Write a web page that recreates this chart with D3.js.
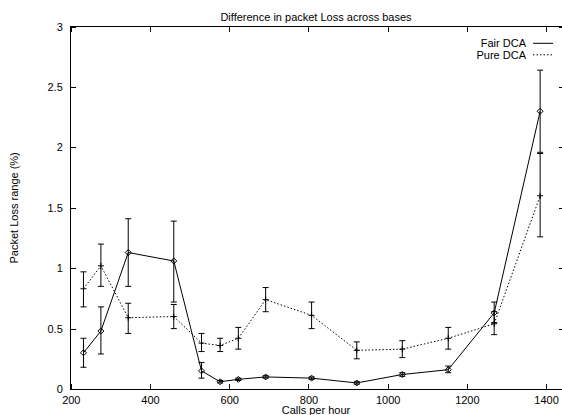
<!DOCTYPE html>
<html>
<head>
<meta charset="utf-8">
<script src="https://cdn.jsdelivr.net/npm/d3@7"></script>
<style>
  body { margin: 0; background: #fff; }
  svg { display: block; font-family: "Liberation Sans", Arial, Helvetica, sans-serif; }
</style>
</head>
<body>
<svg></svg>
<script>
// values
let calls = [232, 276, 345, 460, 530, 577, 623, 692, 808, 922, 1037, 1153, 1269, 1385];

let fair     = [0.30, 0.48, 1.13, 1.06, 0.15, 0.06, 0.08, 0.10, 0.09, 0.05, 0.12, 0.16, 0.63, 2.30];
let fairLow  = [0.18, 0.29, 0.85, 0.72, 0.09, 0.05, 0.07, 0.09, 0.08, 0.04, 0.105, 0.135, 0.55, 1.96];
let fairHigh = [0.42, 0.68, 1.41, 1.39, 0.22, 0.07, 0.09, 0.11, 0.10, 0.06, 0.135, 0.19, 0.72, 2.64];

let pure     = [0.83, 1.02, 0.59, 0.60, 0.38, 0.36, 0.42, 0.74, 0.61, 0.32, 0.33, 0.42, 0.54, 1.60];
let pureLow  = [0.68, 0.85, 0.46, 0.50, 0.31, 0.31, 0.33, 0.64, 0.50, 0.25, 0.26, 0.33, 0.45, 1.26];
let pureHigh = [0.97, 1.20, 0.71, 0.70, 0.46, 0.42, 0.51, 0.84, 0.72, 0.39, 0.40, 0.51, 0.64, 1.95];

let xTicks = [200, 400, 600, 800, 1000, 1200, 1400];
let yTicks = [0, 0.5, 1, 1.5, 2, 2.5, 3];

let seriesNames = ['Fair DCA', 'Pure DCA'];

let width = 562;
let height = 415;
let plotLeft = 70.8;
let plotRight = 563.5;
let plotTop = 26.7;
let plotBottom = 389;

let svg = d3.select('svg').attr('width', width).attr('height', height);

let xScale = d3.scaleLinear().domain([200, 1444]).range([plotLeft, plotRight]);
let yScale = d3.scaleLinear().domain([0, 3]).range([plotBottom, plotTop]);

let series = [
  { name: seriesNames[0], y: fair, lo: fairLow, hi: fairHigh, dash: null, marker: 'diamond' },
  { name: seriesNames[1], y: pure, lo: pureLow, hi: pureHigh, dash: '1.5,2', marker: 'plus' }
];

// axes - gnuplot style inward ticks on all four sides
let styleAxis = (g) => {
  g.select('.domain').remove();
  g.selectAll('line').attr('stroke', '#000').attr('shape-rendering', 'crispEdges');
  g.selectAll('text').attr('fill', '#000').style('font-size', '11px');
};

svg.append('g')
  .attr('transform', 'translate(0,' + plotBottom + ')')
  .call(d3.axisBottom(xScale).tickValues(xTicks).tickSizeInner(-5).tickSizeOuter(0).tickPadding(7).tickFormat(d3.format('d')))
  .call(styleAxis);

svg.append('g')
  .attr('transform', 'translate(0,' + plotTop + ')')
  .call(d3.axisTop(xScale).tickValues(xTicks).tickSizeInner(-5).tickSizeOuter(0).tickFormat(''))
  .call(styleAxis);

svg.append('g')
  .attr('transform', 'translate(' + plotLeft + ',0)')
  .call(d3.axisLeft(yScale).tickValues(yTicks).tickSizeInner(-5).tickSizeOuter(0).tickPadding(8).tickFormat((d) => d))
  .call(styleAxis);

svg.append('g')
  .attr('transform', 'translate(' + plotRight + ',0)')
  .call(d3.axisRight(yScale).tickValues(yTicks).tickSizeInner(-5).tickSizeOuter(0).tickFormat(''))
  .call(styleAxis);

// frame
svg.append('rect')
  .attr('x', plotLeft).attr('y', plotTop)
  .attr('width', plotRight - plotLeft).attr('height', plotBottom - plotTop)
  .attr('fill', 'none').attr('stroke', '#000').attr('shape-rendering', 'crispEdges');

// lines, error bars, markers
let line = d3.line().x((d) => xScale(d[0])).y((d) => yScale(d[1]));

series.forEach((s) => {
  let pts = calls.map((c, i) => [c, s.y[i], s.lo[i], s.hi[i]]);
  let g = svg.append('g');

  g.append('path')
    .datum(pts)
    .attr('d', line)
    .attr('fill', 'none')
    .attr('stroke', '#000')
    .attr('stroke-width', 1)
    .attr('stroke-dasharray', s.dash);

  let bars = g.selectAll('g.err').data(pts).enter().append('g').attr('class', 'err');
  bars.append('line')
    .attr('x1', (d) => xScale(d[0])).attr('x2', (d) => xScale(d[0]))
    .attr('y1', (d) => yScale(d[2])).attr('y2', (d) => yScale(d[3]))
    .attr('stroke', '#000');
  bars.append('line')
    .attr('x1', (d) => xScale(d[0]) - 3).attr('x2', (d) => xScale(d[0]) + 3)
    .attr('y1', (d) => yScale(d[2])).attr('y2', (d) => yScale(d[2]))
    .attr('stroke', '#000');
  bars.append('line')
    .attr('x1', (d) => xScale(d[0]) - 3).attr('x2', (d) => xScale(d[0]) + 3)
    .attr('y1', (d) => yScale(d[3])).attr('y2', (d) => yScale(d[3]))
    .attr('stroke', '#000');

  if (s.marker === 'diamond') {
    g.selectAll('path.pt').data(pts).enter().append('path')
      .attr('class', 'pt')
      .attr('d', (d) => {
        let x = xScale(d[0]), y = yScale(d[1]), r = 3;
        return 'M' + x + ',' + (y - r) + 'L' + (x + r) + ',' + y + 'L' + x + ',' + (y + r) + 'L' + (x - r) + ',' + y + 'Z';
      })
      .attr('fill', 'none').attr('stroke', '#000');
  } else {
    g.selectAll('path.pt').data(pts).enter().append('path')
      .attr('class', 'pt')
      .attr('d', (d) => {
        let x = xScale(d[0]), y = yScale(d[1]), r = 3;
        return 'M' + (x - r) + ',' + y + 'H' + (x + r) + 'M' + x + ',' + (y - r) + 'V' + (y + r);
      })
      .attr('fill', 'none').attr('stroke', '#000');
  }
});

// legend
let legend = svg.append('g');
series.forEach((s, i) => {
  let y = 43.3 + i * 11.5;
  legend.append('text')
    .attr('x', 526).attr('y', y + 4)
    .attr('text-anchor', 'end')
    .style('font-size', '11px')
    .text(s.name);
  legend.append('line')
    .attr('x1', 533).attr('x2', 553)
    .attr('y1', y).attr('y2', y)
    .attr('stroke', '#000')
    .attr('stroke-dasharray', s.dash);
});

// titles
svg.append('text')
  .attr('x', 316).attr('y', 20.5)
  .attr('text-anchor', 'middle')
  .style('font-size', '11px')
  .text('Difference in packet Loss across bases');

svg.append('text')
  .attr('x', 316).attr('y', 414)
  .attr('text-anchor', 'middle')
  .style('font-size', '11px')
  .text('Calls per hour');

svg.append('text')
  .attr('transform', 'translate(17.5,' + ((plotTop + plotBottom) / 2) + ') rotate(-90)')
  .attr('text-anchor', 'middle')
  .style('font-size', '11px')
  .text('Packet Loss range (%)');
</script>
</body>
</html>
